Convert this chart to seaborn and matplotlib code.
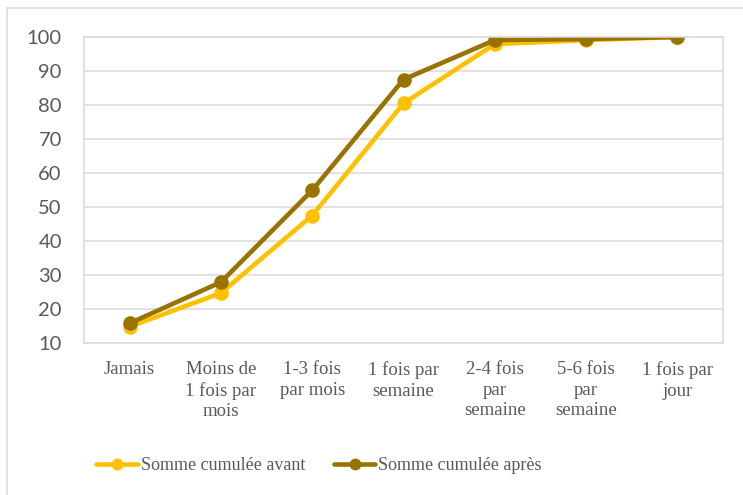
import matplotlib
matplotlib.use("Agg")
import matplotlib.pyplot as plt
from matplotlib.lines import Line2D
import seaborn as sns
import pandas as pd

categories = ["Jamais", "Moins de\n1 fois par\nmois", "1-3 fois\npar mois", "1 fois par\nsemaine",
              "2-4 fois\npar\nsemaine", "5-6 fois\npar\nsemaine", "1 fois par\njour"]
avant = [14.8, 24.7, 47.5, 80.5, 97.9, 99.1, 100.0]
apres = [15.8, 27.9, 54.9, 87.5, 99.1, 99.4, 100.0]
series_names = ["Somme cumulée avant", "Somme cumulée après"]
colors = ["#FFC000", "#997300"]
yticks = [10, 20, 30, 40, 50, 60, 70, 80, 90, 100]

df = pd.DataFrame({
    "cat": categories * 2,
    "val": avant + apres,
    "serie": [series_names[0]] * len(categories) + [series_names[1]] * len(categories),
})

sns.set_theme(style="white")
W, H = 743, 495
fig = plt.figure(figsize=(W / 100, H / 100), dpi=100)
ax = fig.add_axes([84 / W, (H - 343) / H, 639 / W, 306 / H])

sns.lineplot(data=df, x="cat", y="val", hue="serie", palette=colors, marker="o",
             markersize=10.5, markeredgewidth=0, linewidth=3.3, sort=False, ax=ax, legend=False)

ax.set_xlim(-0.5, len(categories) - 0.5)
ax.set_ylim(10, 100)
ax.set_yticks(yticks)
ax.set_xlabel("")
ax.set_ylabel("")
ax.grid(axis="y", color="#D9D9D9", linewidth=1.1)
ax.set_axisbelow(True)
for s in ax.spines.values():
    s.set_color("#D9D9D9")
    s.set_linewidth(1.1)
ax.tick_params(axis="both", length=0)
ax.tick_params(axis="y", pad=16)
ax.tick_params(axis="x", pad=13)
for t in ax.get_yticklabels():
    t.set_fontfamily("Lato")
    t.set_fontsize(14.5)
    t.set_color("#595959")
for t in ax.get_xticklabels():
    t.set_fontfamily("Liberation Serif")
    t.set_fontsize(13.5)
    t.set_color("#595959")
    t.set_linespacing(1.28)
    t.set_verticalalignment("top")

handles = [Line2D([], [], color=c, lw=3.3, marker="o", markersize=8.5, markeredgewidth=0) for c in colors]
leg = fig.legend(handles, series_names, loc="center", bbox_to_anchor=(319 / W, 1 - 466 / H),
                 ncol=2, frameon=False, handlelength=2.3, handletextpad=0.15, columnspacing=1.6,
                 prop={"family": "Liberation Serif", "size": 13})
for t in leg.get_texts():
    t.set_color("#595959")

# outer chart frame (left and top edges visible)
fig.add_artist(Line2D([7.5 / W, 7.5 / W], [0, 1 - 7.5 / H], transform=fig.transFigure,
                      color="#D9D9D9", lw=1.1))
fig.add_artist(Line2D([7.5 / W, 1], [1 - 7.5 / H, 1 - 7.5 / H], transform=fig.transFigure,
                      color="#D9D9D9", lw=1.1))

fig.savefig("out.png", dpi=100)
